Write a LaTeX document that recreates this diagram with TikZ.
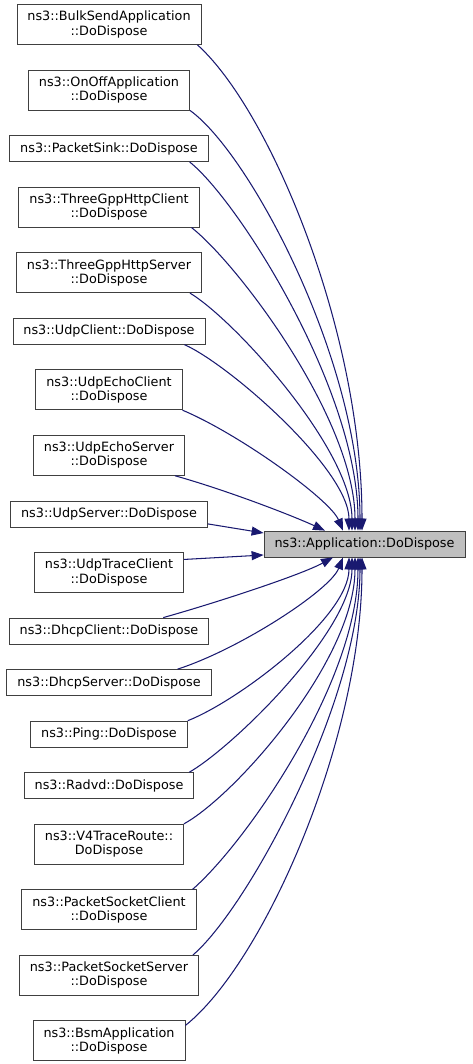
\documentclass[tikz,border=0pt]{standalone}
\usepackage{fontspec}
\setmainfont{DejaVu Sans}
\usetikzlibrary{positioning,arrows.meta}
\definecolor{edgeblue}{RGB}{25,25,112}
\definecolor{boxgray}{RGB}{191,191,191}
\begin{document}
\begin{tikzpicture}[x=1pt,y=-1pt,node distance=24.75pt]
\tikzstyle{fn}=[draw=black!75,fill=white,line width=0.8pt,font=\fontsize{12.8}{14.2}\selectfont,inner xsep=10.5pt,inner ysep=0pt,minimum height=26pt,align=center]
\tikzstyle{fn2}=[fn,minimum height=40pt]
\tikzstyle{call}=[draw=edgeblue,line width=1.05pt,-{Triangle[length=12pt,width=9pt]}]
\useasboundingbox (0,0) rectangle (472,1064);
\node[fn2] (bulk) at (109,24.5) {ns3::BulkSendApplication\\::DoDispose};
\node[fn2,below=of bulk] (onoff) {ns3::OnOffApplication\\::DoDispose};
\node[fn,below=of onoff] (sink) {ns3::PacketSink::DoDispose};
\node[fn2,below=of sink] (httpc) {ns3::ThreeGppHttpClient\\::DoDispose};
\node[fn2,below=of httpc] (https) {ns3::ThreeGppHttpServer\\::DoDispose};
\node[fn,below=of https] (udpc) {ns3::UdpClient::DoDispose};
\node[fn2,below=of udpc] (echoc) {ns3::UdpEchoClient\\::DoDispose};
\node[fn2,below=of echoc] (echos) {ns3::UdpEchoServer\\::DoDispose};
\node[fn,below=of echos] (udps) {ns3::UdpServer::DoDispose};
\node[fn2,below=of udps] (tracec) {ns3::UdpTraceClient\\::DoDispose};
\node[fn,below=of tracec] (dhcpc) {ns3::DhcpClient::DoDispose};
\node[fn,below=of dhcpc] (dhcps) {ns3::DhcpServer::DoDispose};
\node[fn,below=of dhcps] (ping) {ns3::Ping::DoDispose};
\node[fn,below=of ping] (radvd) {ns3::Radvd::DoDispose};
\node[fn2,below=of radvd] (v4) {ns3::V4TraceRoute::\\DoDispose};
\node[fn2,below=of v4] (sockc) {ns3::PacketSocketClient\\::DoDispose};
\node[fn2,below=of sockc] (socks) {ns3::PacketSocketServer\\::DoDispose};
\node[fn2,below=of socks] (bsm) {ns3::BsmApplication\\::DoDispose};
\node[fn,fill=boxgray] (app) at (364.5,544) {ns3::Application::DoDispose};
\draw[call] ([xshift=-4pt]bulk.south east) .. controls +(72,65) and +(0,-201) .. ([xshift=-2.5pt]app.north);
\draw[call] (onoff.south east) .. controls +(59,42) and +(0,-171) .. ([xshift=-4.5pt]app.north);
\draw[call] ([xshift=-19pt]sink.south east) .. controls +(48,38) and +(0,-141) .. ([xshift=-6.5pt]app.north);
\draw[call] ([xshift=-8pt]httpc.south east) .. controls +(47,37) and +(0,-111) .. ([xshift=-9.5pt]app.north);
\draw[call] ([xshift=-12pt]https.south east) .. controls +(45,27) and +(0,-81) .. ([xshift=-12.5pt]app.north);
\draw[call] ([xshift=-21pt]udpc.south east) .. controls +(45,20) and +(0,-61) .. ([xshift=-15.5pt]app.north);
\draw[call] (echoc.south east) .. controls +(57,24) and +(-13,-31) .. ([xshift=-21.5pt]app.north);
\draw[call] ([xshift=-10pt]echos.south east) .. controls +(50,14) and +(-35,-16) .. ([xshift=-39.5pt]app.north);
\draw[call] ([yshift=-10pt]udps.east) -- ([yshift=11pt]app.west);
\draw[call] ([yshift=13pt]tracec.east) -- ([yshift=-11pt]app.west);
\draw[call] ([xshift=-46pt]dhcpc.north east) .. controls +(50,-14) and +(-33,18) .. ([xshift=-31.5pt]app.south);
\draw[call] ([xshift=-34pt]dhcps.north east) .. controls +(62,-20) and +(-13,33) .. ([xshift=-21.5pt]app.south);
\draw[call] (ping.north east) .. controls +(51,-20) and +(0,60) .. ([xshift=-15.5pt]app.south);
\draw[call] ([xshift=-5pt]radvd.north east) .. controls +(45,-26) and +(0,73) .. ([xshift=-12.5pt]app.south);
\draw[call] (v4.north east) .. controls +(51,-28) and +(0,103) .. ([xshift=-9.5pt]app.south);
\draw[call] ([xshift=-4pt]sockc.north east) .. controls +(55,-48) and +(0,123) .. ([xshift=-6.5pt]app.south);
\draw[call] ([xshift=-6pt]socks.north east) .. controls +(55,-47) and +(0,143) .. ([xshift=-4.5pt]app.south);
\draw[call] ([yshift=-5pt]bsm.north east) .. controls +(78,-62) and +(0,183) .. ([xshift=-2.5pt]app.south);
\end{tikzpicture}
\end{document}
